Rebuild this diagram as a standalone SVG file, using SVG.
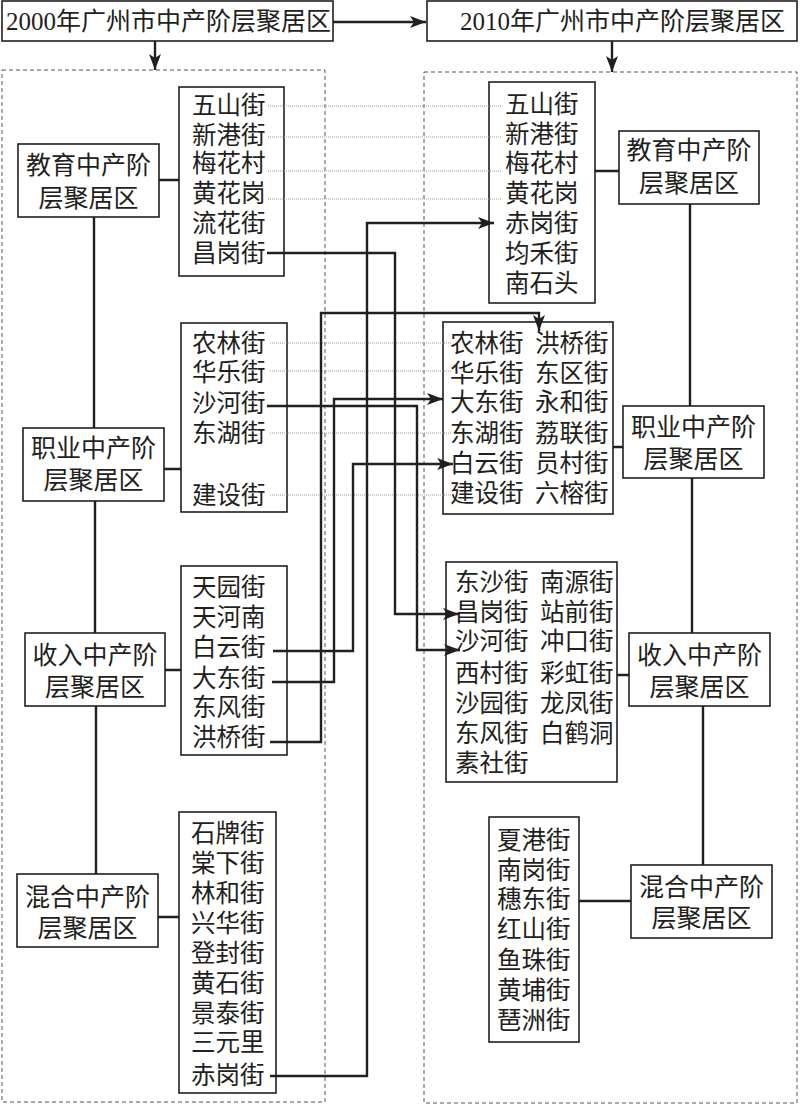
<svg xmlns="http://www.w3.org/2000/svg" width="800" height="1105" viewBox="0 0 800 1105">
<style>
text{font-family:"Liberation Serif","Noto Sans CJK SC",serif;fill:#231f20;}
.t{font-size:25px;}
.lab{font-size:25px;text-anchor:middle;}
.it{font-size:24.5px;}
.box{fill:#fff;stroke:#231f20;stroke-width:1.6;}
.dash{fill:none;stroke:#555;stroke-width:1;stroke-dasharray:4,3;}
.ln{fill:none;stroke:#231f20;stroke-width:2.4;}
.dot{fill:none;stroke:#999;stroke-width:1;stroke-dasharray:1,1;}
</style>
<defs>
<marker id="ah" markerUnits="userSpaceOnUse" markerWidth="18" markerHeight="12" refX="16" refY="6" orient="auto">
<path d="M0,0 L16,6 L0,12 L4,6 z" fill="#231f20"/>
</marker>
</defs>
<rect width="800" height="1105" fill="#fff"/>
<rect class="dash" x="2" y="70" width="323" height="1032"/>
<rect class="dash" x="424" y="72" width="373" height="1031"/>

<g id="title2000"><rect class="box" x="2" y="1" width="331" height="40"/><text class="t" x="6" y="30">2000年广州市中产阶层聚居区</text></g>
<g id="title2010"><rect class="box" x="427" y="1" width="370" height="40"/><text class="t" x="460" y="30">2010年广州市中产阶层聚居区</text></g>

<g id="eduL"><rect class="box" x="18" y="144" width="141" height="73"/><text class="lab" x="88.5" y="174">教育中产阶</text><text class="lab" x="88.5" y="207">层聚居区</text></g>
<g id="jobL"><rect class="box" x="23" y="428" width="141" height="73"/><text class="lab" x="93.5" y="457">职业中产阶</text><text class="lab" x="93.5" y="489">层聚居区</text></g>
<g id="incL"><rect class="box" x="25" y="633" width="140" height="73"/><text class="lab" x="95" y="664">收入中产阶</text><text class="lab" x="95" y="696">层聚居区</text></g>
<g id="mixL"><rect class="box" x="17" y="874" width="141" height="73"/><text class="lab" x="87.5" y="906">混合中产阶</text><text class="lab" x="87.5" y="937">层聚居区</text></g>

<g id="eduR"><rect class="box" x="619" y="131" width="140" height="73"/><text class="lab" x="689" y="159">教育中产阶</text><text class="lab" x="689" y="192">层聚居区</text></g>
<g id="jobR"><rect class="box" x="623" y="406" width="141" height="72"/><text class="lab" x="693.5" y="436">职业中产阶</text><text class="lab" x="693.5" y="468">层聚居区</text></g>
<g id="incR"><rect class="box" x="629" y="633" width="141" height="73"/><text class="lab" x="699.5" y="664">收入中产阶</text><text class="lab" x="699.5" y="696">层聚居区</text></g>
<g id="mixR"><rect class="box" x="631" y="865" width="141" height="73"/><text class="lab" x="701.5" y="896">混合中产阶</text><text class="lab" x="701.5" y="927">层聚居区</text></g>

<g id="listL1"><rect class="box" x="179" y="87" width="105" height="189"/>
<text class="it"><tspan x="192" y="114">五山街</tspan><tspan x="192" y="144">新港街</tspan><tspan x="192" y="172">梅花村</tspan><tspan x="192" y="202">黄花岗</tspan><tspan x="192" y="232">流花街</tspan><tspan x="192" y="262">昌岗街</tspan></text></g>
<g id="listL2"><rect class="box" x="181" y="323" width="106" height="189"/>
<text class="it"><tspan x="192" y="352">农林街</tspan><tspan x="192" y="381">华乐街</tspan><tspan x="192" y="412">沙河街</tspan><tspan x="192" y="442">东湖街</tspan><tspan x="192" y="504">建设街</tspan></text></g>
<g id="listL3"><rect class="box" x="181" y="566" width="106" height="189"/>
<text class="it"><tspan x="192" y="596">天园街</tspan><tspan x="192" y="626">天河南</tspan><tspan x="192" y="656">白云街</tspan><tspan x="192" y="687">大东街</tspan><tspan x="192" y="716">东风街</tspan><tspan x="192" y="746">洪桥街</tspan></text></g>
<g id="listL4"><rect class="box" x="179" y="812" width="97" height="281"/>
<text class="it"><tspan x="191" y="842">石牌街</tspan><tspan x="191" y="872">棠下街</tspan><tspan x="191" y="902">林和街</tspan><tspan x="191" y="932">兴华街</tspan><tspan x="191" y="962">登封街</tspan><tspan x="191" y="992">黄石街</tspan><tspan x="191" y="1022">景泰街</tspan><tspan x="191" y="1051">三元里</tspan><tspan x="191" y="1084">赤岗街</tspan></text></g>

<g id="listR1"><rect class="box" x="489" y="82" width="106" height="221"/>
<text class="it"><tspan x="505" y="113">五山街</tspan><tspan x="505" y="143">新港街</tspan><tspan x="505" y="172">梅花村</tspan><tspan x="505" y="202">黄花岗</tspan><tspan x="505" y="232">赤岗街</tspan><tspan x="505" y="262">均禾街</tspan><tspan x="505" y="292">南石头</tspan></text></g>
<g id="listR2"><rect class="box" x="443" y="322" width="170" height="192"/>
<text class="it"><tspan x="450" y="352">农林街</tspan><tspan x="450" y="382">华乐街</tspan><tspan x="450" y="411">大东街</tspan><tspan x="450" y="442">东湖街</tspan><tspan x="450" y="472">白云街</tspan><tspan x="450" y="502">建设街</tspan></text>
<text class="it"><tspan x="535" y="352">洪桥街</tspan><tspan x="535" y="382">东区街</tspan><tspan x="535" y="411">永和街</tspan><tspan x="535" y="442">荔联街</tspan><tspan x="535" y="472">员村街</tspan><tspan x="535" y="502">六榕街</tspan></text></g>
<g id="listR3"><rect class="box" x="446" y="562" width="171" height="220"/>
<text class="it"><tspan x="455" y="591">东沙街</tspan><tspan x="455" y="621">昌岗街</tspan><tspan x="455" y="650">沙河街</tspan><tspan x="455" y="682">西村街</tspan><tspan x="455" y="712">沙园街</tspan><tspan x="455" y="742">东风街</tspan><tspan x="455" y="772">素社街</tspan></text>
<text class="it"><tspan x="540" y="591">南源街</tspan><tspan x="540" y="621">站前街</tspan><tspan x="540" y="650">冲口街</tspan><tspan x="540" y="682">彩虹街</tspan><tspan x="540" y="712">龙凤街</tspan><tspan x="540" y="742">白鹤洞</tspan></text></g>
<g id="listR4"><rect class="box" x="489" y="817" width="90" height="225"/>
<text class="it"><tspan x="497" y="849">夏港街</tspan><tspan x="497" y="879">南岗街</tspan><tspan x="497" y="908">穗东街</tspan><tspan x="497" y="938">红山街</tspan><tspan x="497" y="969">鱼珠街</tspan><tspan x="497" y="999">黄埔街</tspan><tspan x="497" y="1029">琶洲街</tspan></text></g>

<g id="connectors">
<path class="ln" d="M333,22 H426" marker-end="url(#ah)"/>
<path class="ln" d="M155,41 V70" marker-end="url(#ah)"/>
<path class="ln" d="M612,41 V72" marker-end="url(#ah)"/>
<path class="ln" d="M159,180 H179 M164,469 H181 M165,670 H181 M158,917 H179"/>
<path class="ln" d="M94,217 V428 M95,501 V633 M96,706 V874"/>
<path class="ln" d="M595,171 H619 M613,447 H623 M617,675 H629 M579,901 H631"/>
<path class="ln" d="M690,204 V406 M692,478 V633 M703,706 V865"/>
<path class="dot" d="M268,106 H502 M268,137 H502 M268,171 H502 M268,199 H502 M270,343 H451 M270,371 H451 M270,433 H451 M270,495 H451"/>
<path class="ln" d="M267,253 H395 V614 H459" marker-end="url(#ah)"/>
<path class="ln" d="M270,1076 H367 V223 H494" marker-end="url(#ah)"/>
<path class="ln" d="M270,742 H321 V313 H539 V331" marker-end="url(#ah)"/>
<path class="ln" d="M272,682 H334 V399 H443" marker-end="url(#ah)"/>
<path class="ln" d="M273,651 H353 V464 H453" marker-end="url(#ah)"/>
<path class="ln" d="M267,406 H417 V650 H460" marker-end="url(#ah)"/>
</g>
</svg>
